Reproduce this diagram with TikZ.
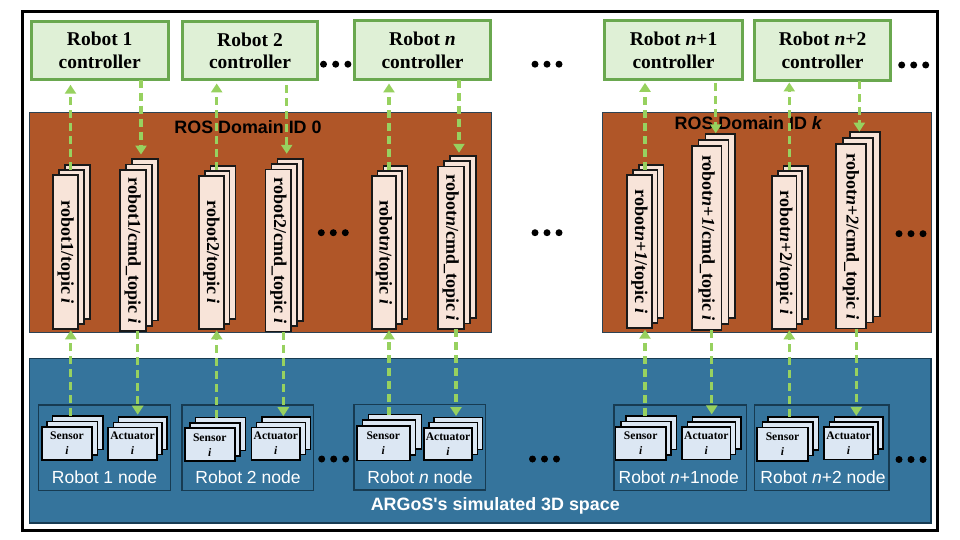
\documentclass[tikz,border=0pt]{standalone}
\usepackage{fontspec}
\setmainfont{Liberation Serif}
\newfontfamily\helv{Liberation Sans}
\usetikzlibrary{arrows.meta}
\definecolor{ctrlfill}{HTML}{DFF0D6}
\definecolor{ctrlline}{HTML}{6AA84F}
\definecolor{rosfill}{HTML}{B05628}
\definecolor{rosline}{HTML}{2C4354}
\definecolor{argfill}{HTML}{35749C}
\definecolor{argline}{HTML}{173B52}
\definecolor{sheetfill}{HTML}{F8E4D9}
\definecolor{sensfill}{HTML}{DCE7F3}
\definecolor{flowcol}{HTML}{97D15F}
\tikzset{
  outerframe/.style={draw=black,line width=3.5pt,fill=white},
  ctrlbox/.style={draw=ctrlline,fill=ctrlfill,line width=3pt,inner sep=0pt,outer sep=0pt,align=center,
    font=\fontsize{19.5}{22.5}\selectfont\bfseries},
  rosdomain/.style={draw=rosline,fill=rosfill,line width=1pt},
  argspace/.style={draw=argline,fill=argfill,line width=1.2pt},
  robotbox/.style={draw=argline,fill=argfill,line width=1.4pt,inner sep=0pt,outer sep=0pt},
  topicsheet/.style={draw=black!90,fill=sheetfill,line width=1.5pt,inner sep=0pt,outer sep=0pt,
    font=\fontsize{18}{20}\selectfont\bfseries},
  senssheet/.style={draw=black,fill=sensfill,line width=1.5pt,inner sep=0pt,outer sep=0pt,align=center,
    font=\fontsize{11.6}{15}\selectfont\bfseries},
  domlabel/.style={font=\fontsize{17.9}{20}\selectfont\helv\bfseries,text=black,inner sep=0pt},
  nodelabel/.style={font=\fontsize{17.5}{20}\selectfont\helv,text=white,inner sep=0pt},
  spacelabel/.style={font=\fontsize{17.9}{20}\selectfont\helv\bfseries,text=white,inner sep=0pt},
  flowline/.style={draw=flowcol,line width=3.1pt,dash pattern=on 8pt off 5pt,
    -{Triangle[width=11pt,length=9pt,fill=flowcol]}},
  dotmark/.style={circle,fill=black,draw=none,minimum size=7pt,inner sep=0pt},
}
% name, x1, y1, x2, y2, dx, dy, style, text
\newcommand{\sheetstack}[9]{%
  \pgfmathsetmacro\stW{#4-#2-1}%
  \pgfmathsetmacro\stH{#5-#3-1}%
  \pgfmathsetmacro\stX{(#2+#4)/2}%
  \pgfmathsetmacro\stY{(#3+#5)/2}%
  \node[#8,minimum width=\stW pt,minimum height=\stH pt] (#1back) at (\stX+#6,\stY-#7) {};
  \node[#8,minimum width=\stW pt,minimum height=\stH pt] (#1mid) at (\stX+#6/2,\stY-#7/2) {};
  \node[#8,minimum width=\stW pt,minimum height=\stH pt] (#1) at (\stX,\stY) {#9};
}
% x, from, to, shorten start, shorten end
\newcommand{\flowv}[5]{%
  \coordinate (flowx) at (#1,0);
  \draw[flowline,shorten <=#4pt,shorten >=#5pt] (flowx |- #2) -- (flowx |- #3);
}
\newcommand{\threedots}[4]{%
  \node[dotmark] (#4a) at (#1,#3) {};
  \node[dotmark] (#4b) at (#1+#2,#3) {};
  \node[dotmark] (#4c) at (#1+2*#2,#3) {};
}
\newcommand{\vtxt}[1]{\rotatebox{-90}{#1}}
\begin{document}
\begin{tikzpicture}[x=1pt,y=-1pt]
\useasboundingbox (0,0) rectangle (960,540);
\fill[white] (0,0) rectangle (960,540);
\draw[outerframe] (22.5,11.3) rectangle (937.5,530.3);

% controllers
\node[ctrlbox,minimum width=137pt,minimum height=58.5pt] (c1) at (99.7,50.5) {Robot 1\\controller};
\node[ctrlbox,minimum width=135pt,minimum height=58.5pt] (c2) at (250,50.7) {Robot 2\\controller};
\node[ctrlbox,minimum width=136pt,minimum height=59pt] (c3) at (422.5,50.5) {Robot \textit{n}\\controller};
\node[ctrlbox,minimum width=138pt,minimum height=59pt] (c4) at (673.5,50.3) {Robot \textit{n}+1\\controller};
\node[ctrlbox,minimum width=136pt,minimum height=60pt] (c5) at (822.5,50.5) {Robot \textit{n}+2\\controller};

% ROS domains
\draw[rosdomain] (29.3,112.3) rectangle (491,332.3);
\draw[rosdomain] (602.7,112.6) rectangle (931.2,332.3);
\node[domlabel] (dom0) at (248,126.7) {ROS Domain ID 0};
\node[domlabel] (domk) at (748.7,123.5) {ROS Domain ID \textit{k}};

% topics
\sheetstack{t1}{52.7}{174.7}{78.7}{329.3}{11.7}{10}{topicsheet}{\vtxt{robot1/topic \textit{i}}}
\sheetstack{k1}{119.3}{169.3}{146.3}{331.7}{12}{10.7}{topicsheet}{\vtxt{robot1/cmd\_topic \textit{i}}}
\sheetstack{t2}{198.7}{175.3}{224.3}{329.3}{11.5}{10}{topicsheet}{\vtxt{robot2/topic \textit{i}}}
\sheetstack{k2}{265}{169}{291.7}{332}{12}{10.7}{topicsheet}{\vtxt{robot2/cmd\_topic \textit{i}}}
\sheetstack{t3}{371.3}{175.3}{396.7}{329.3}{11.5}{10}{topicsheet}{\vtxt{robot\textit{n}/topic \textit{i}}}
\sheetstack{k3}{437.3}{166}{464.3}{329.3}{12}{10.7}{topicsheet}{\vtxt{robot\textit{n}/cmd\_topic \textit{i}}}
\sheetstack{t4}{626.7}{174.7}{652.3}{328.7}{11.7}{10.3}{topicsheet}{\vtxt{robot\textit{n}+\textit{1}/topic \textit{i}}}
\sheetstack{k4}{691.3}{145.3}{722}{330.7}{13.7}{12}{topicsheet}{\vtxt{robot\textit{n}+\textit{1}/cmd\_topic \textit{i}}}
\sheetstack{t5}{771.7}{175.3}{797}{329.3}{11.3}{10}{topicsheet}{\vtxt{robot\textit{n}+2/topic \textit{i}}}
\sheetstack{k5}{835.7}{143.7}{866.3}{329}{14}{12}{topicsheet}{\vtxt{robot\textit{n}+\textit{2}/cmd\_topic \textit{i}}}

% ARGoS space
\draw[argspace] (29.3,358.8) rectangle (931,523);
\node[spacelabel] (argos) at (495.3,506) {ARGoS's simulated 3D space};

% robot nodes
\node[robotbox,minimum width=131.6pt,minimum height=85.3pt] (b1) at (104.5,447.7) {};
\node[robotbox,minimum width=131.3pt,minimum height=85.3pt] (b2) at (247.7,447.7) {};
\node[robotbox,minimum width=131.7pt,minimum height=85.3pt] (b3) at (419.9,447.4) {};
\node[robotbox,minimum width=132.7pt,minimum height=85.3pt] (b4) at (680.4,447.7) {};
\node[robotbox,minimum width=134.3pt,minimum height=85.3pt] (b5) at (821.9,447.7) {};

\sheetstack{s1}{41.3}{426.3}{92.7}{460.7}{10.7}{10.7}{senssheet}{Sensor\\\textit{i}}
\sheetstack{a1}{107.7}{427}{157.3}{460.3}{10.3}{10.3}{senssheet}{Actuator\\\textit{i}}
\sheetstack{s2}{184.3}{427.7}{235.3}{461.7}{10.7}{10.7}{senssheet}{Sensor\\\textit{i}}
\sheetstack{a2}{251}{427}{300.7}{460.3}{10.3}{10.3}{senssheet}{Actuator\\\textit{i}}
\sheetstack{s3}{356.3}{425.3}{410.3}{461}{11.5}{11.3}{senssheet}{Sensor\\\textit{i}}
\sheetstack{a3}{423.3}{427.3}{472.7}{460.3}{10.3}{10.3}{senssheet}{Actuator\\\textit{i}}
\sheetstack{s4}{615}{426.3}{666.3}{460.7}{10.7}{10.7}{senssheet}{Sensor\\\textit{i}}
\sheetstack{a4}{681.7}{426.7}{731}{460}{10.3}{10.3}{senssheet}{Actuator\\\textit{i}}
\sheetstack{s5}{756.7}{427}{808.3}{461.3}{10.7}{10.7}{senssheet}{Sensor\\\textit{i}}
\sheetstack{a5}{823.7}{426.7}{873.3}{460}{10.3}{10.3}{senssheet}{Actuator\\\textit{i}}

\node[nodelabel] (l1) at (104.5,477.2) {Robot 1 node};
\node[nodelabel] (l2) at (248,477.2) {Robot 2 node};
\node[nodelabel] (l3) at (420,477.2) {Robot \textit{n} node};
\node[nodelabel] (l4) at (678.7,477.2) {Robot \textit{n}+1node};
\node[nodelabel] (l5) at (823,477.2) {Robot \textit{n}+2 node};

% dots
\threedots{323.5}{12.2}{64.2}{da}
\threedots{535}{12}{64.2}{db}
\threedots{901.7}{12}{65}{dc}
\threedots{321.3}{12}{232.7}{dd}
\threedots{535}{12}{232.7}{de}
\threedots{899}{12}{233.7}{df}
\threedots{321.7}{12}{459}{dg}
\threedots{532.5}{12}{459}{dh}
\threedots{899}{12}{459.5}{di}

% flows: controllers <-> topics
\flowv{70.5}{t1back.north}{c1.south}{-5}{5}
\flowv{141}{c1.south}{k1back.north}{0}{4.5}
\flowv{216.7}{t2back.north}{c2.south}{-4}{3.5}
\flowv{286.7}{c2.south}{k2back.north}{5.5}{5}
\flowv{389}{t3back.north}{c3.south}{-4}{3.5}
\flowv{459}{c3.south}{k3back.north}{0}{3}
\flowv{645}{t4back.north}{c4.south}{-5}{3}
\flowv{715.7}{c4.south}{k4back.north}{3}{0.5}
\flowv{789.3}{t5back.north}{c5.south}{-4}{2}
\flowv{859.3}{c5.south}{k5back.north}{1}{0.5}
% flows: robot nodes <-> topics
\flowv{70.8}{s1back.north}{t1.south}{0}{1.5}
\flowv{137.7}{k1.south}{a1back.north}{0}{2.5}
\flowv{216.7}{s2back.north}{t2.south}{0}{1.5}
\flowv{283.3}{k2.south}{a2back.north}{0}{1}
\flowv{389}{s3back.north}{t3.south}{0}{1.5}
\flowv{456}{k3.south}{a3back.north}{0}{1.5}
\flowv{645}{s4back.north}{t4.south}{0}{1.5}
\flowv{711.7}{k4.south}{a4back.north}{0}{2.5}
\flowv{789.3}{s5back.north}{t5.south}{0}{1.5}
\flowv{856.3}{k5.south}{a5back.north}{0}{1}
\end{tikzpicture}
\end{document}
